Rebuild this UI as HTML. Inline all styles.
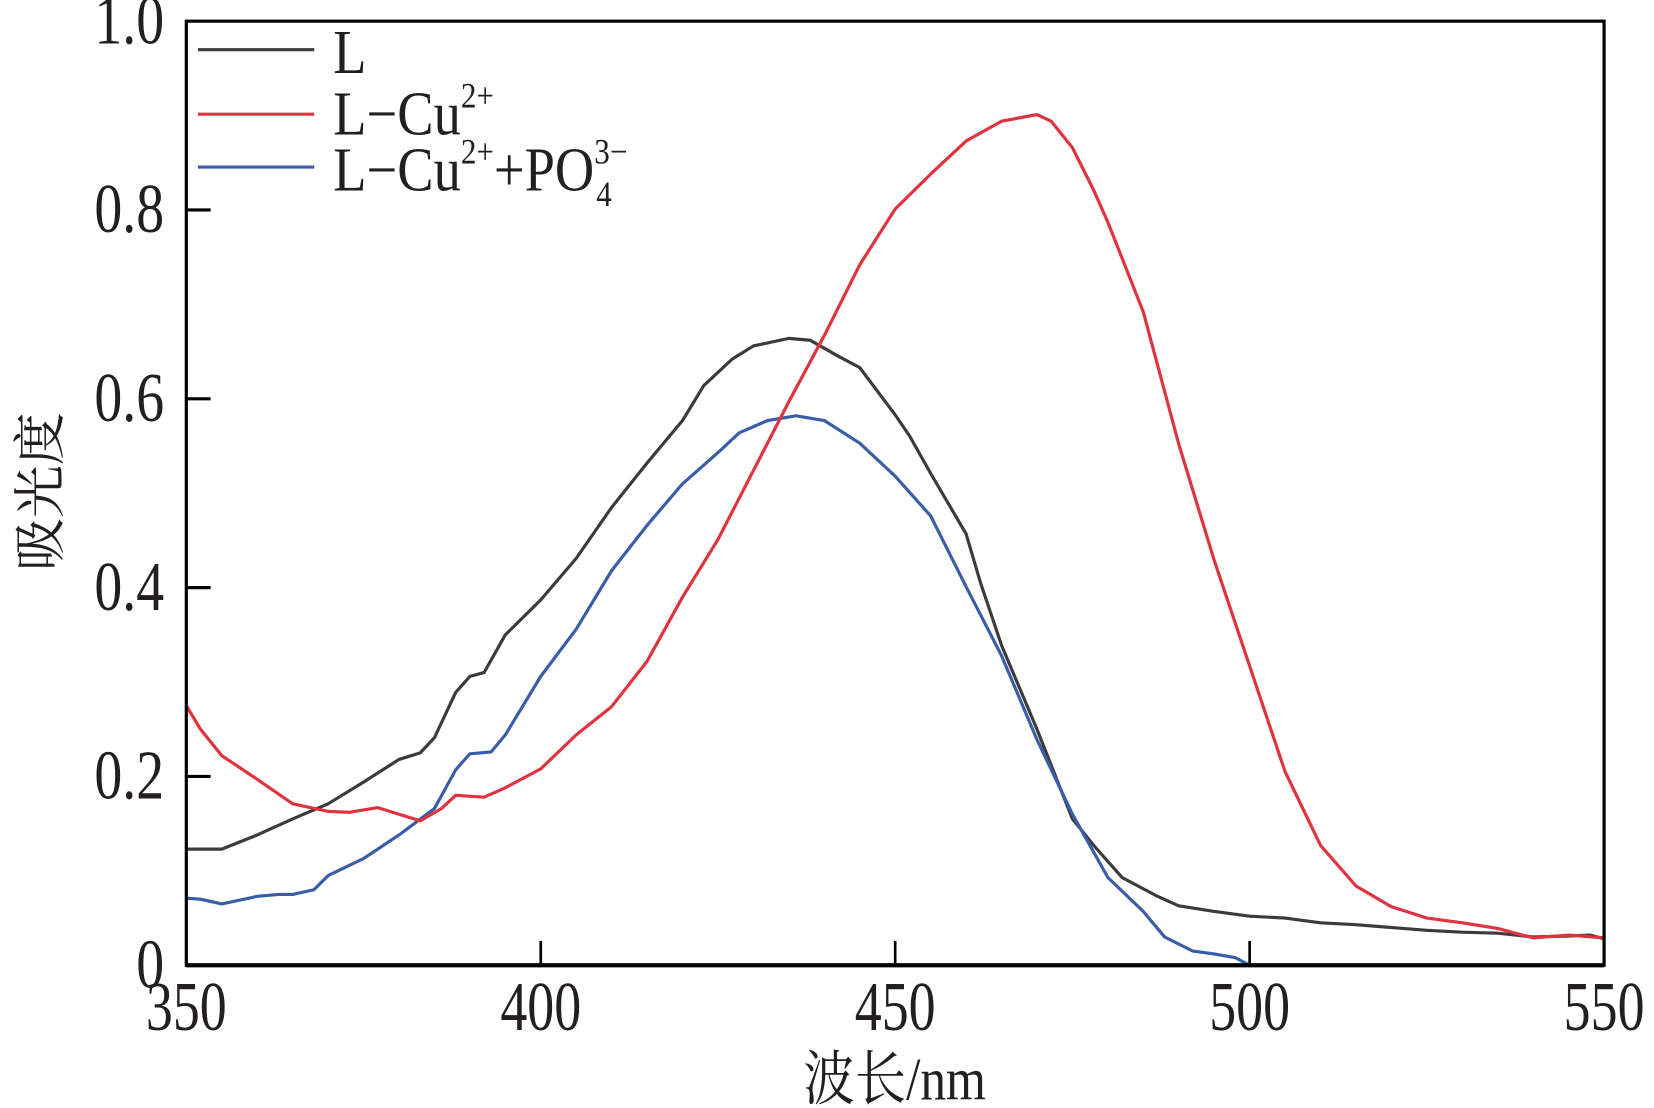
<!DOCTYPE html>
<html><head><meta charset="utf-8"><style>
html,body{margin:0;padding:0;background:#fff;}
svg{display:block;}
text{font-family:"Liberation Serif","Noto Serif CJK SC",serif;fill:#231f20;}
</style></head><body>
<svg id="chart" width="1654" height="1108" viewBox="0 0 1564 1048" xmlns="http://www.w3.org/2000/svg">
<g id="ticks"></g>
<g id="series"></g>
<rect x="176" y="20" width="1341" height="893" fill="none" stroke="#000" stroke-width="3"/>
<line x1="176" y1="913" x2="1517" y2="913" stroke="#000" stroke-width="4"/>
<text transform="translate(55,465) rotate(-90)" text-anchor="middle" font-size="50">吸光度</text>
<text transform="translate(846,1040) scale(0.9,1.05)" text-anchor="middle" font-size="54">波长/nm</text>
<g>
 <g><line x1="187" y1="47" x2="297" y2="47" stroke="#3d3a3b" stroke-width="3"/><text transform="translate(315,69) scale(0.92,1.05)" font-size="56">L</text></g>
 <g><line x1="187" y1="108" x2="297" y2="108" stroke="#e0323f" stroke-width="3"/><text transform="translate(315,127) scale(0.92,1.05)" font-size="56">L−Cu<tspan font-size="32" dy="-24">2+</tspan></text></g>
 <g><line x1="187" y1="158" x2="297" y2="158" stroke="#3a5da8" stroke-width="3"/><text transform="translate(315,180) scale(0.92,1.05)" font-size="56">L−Cu<tspan font-size="32" dy="-24">2+</tspan><tspan dy="24">+PO</tspan><tspan font-size="32" dy="-24">3−</tspan><tspan font-size="32" dx="-32" dy="38">4</tspan></text></g>
</g>
</svg>
<script>
const xTicks=[350,400,450,500,550];
const yTicks=[0,0.2,0.4,0.6,0.8,1.0];
const yTickLabels=["0","0.2","0.4","0.6","0.8","1.0"];
const wlL=[350,355,360,365,370,375,380,383,385,388,390,392,395,400,405,410,415,420,423,427,430,435,438,442,445,450,452,455,460,462,465,470,475,478,482,487,490,495,500,505,510,515,520,525,530,535,540,545,548,550];
const absL=[0.123,0.123,0.138,0.155,0.171,0.194,0.218,0.225,0.241,0.289,0.306,0.310,0.350,0.387,0.431,0.485,0.532,0.577,0.614,0.642,0.656,0.664,0.662,0.645,0.633,0.583,0.561,0.521,0.457,0.406,0.339,0.250,0.155,0.127,0.093,0.073,0.063,0.057,0.052,0.050,0.045,0.043,0.040,0.037,0.035,0.034,0.030,0.031,0.032,0.028];
const wlCu=[350,352,355,360,365,370,373,377,380,383,386,388,392,395,400,405,410,415,420,425,430,435,440,445,450,455,460,465,470,472,475,478,480,485,490,495,500,505,510,515,520,525,530,535,540,545,550];
const absCu=[0.275,0.250,0.222,0.197,0.171,0.163,0.162,0.167,0.160,0.153,0.166,0.180,0.178,0.188,0.208,0.244,0.274,0.322,0.390,0.451,0.524,0.597,0.667,0.742,0.801,0.838,0.873,0.894,0.901,0.894,0.866,0.821,0.787,0.692,0.552,0.429,0.317,0.205,0.127,0.084,0.062,0.050,0.045,0.039,0.029,0.032,0.029];
const wlPO=[350,352,355,360,363,365,368,370,375,380,385,388,390,393,395,400,405,410,415,420,425,428,432,436,440,445,450,455,460,465,470,475,480,485,488,492,495,498,500,502];
const absPO=[0.071,0.070,0.065,0.073,0.075,0.075,0.080,0.095,0.113,0.138,0.166,0.207,0.224,0.226,0.244,0.306,0.356,0.418,0.466,0.510,0.543,0.564,0.577,0.582,0.577,0.553,0.518,0.476,0.401,0.328,0.239,0.160,0.093,0.057,0.030,0.015,0.012,0.008,0.000,0.000];
const X=v=>176+(v-350)*(1341/200);
const Y=v=>913-v*893;
const NS="http://www.w3.org/2000/svg";
const tg=document.getElementById('ticks');
xTicks.forEach(t=>{
 const l=document.createElementNS(NS,'line');
 
 
 l.setAttribute('x1',X(t));l.setAttribute('x2',X(t));l.setAttribute('y1',913);l.setAttribute('y2',890);
 l.setAttribute('stroke','#000');l.setAttribute('stroke-width','2.5');tg.appendChild(l);
 const tx=document.createElementNS(NS,'text');
 
 
 tx.setAttribute('transform','translate('+X(t)+',974) scale(0.85,1.1)');
 tx.setAttribute('text-anchor','middle');tx.setAttribute('font-size','60');
 tx.textContent=t;tg.appendChild(tx);
});
yTicks.forEach((t,i)=>{
 if(t>0&&t<1){
 const l=document.createElementNS(NS,'line');
 
 
 l.setAttribute('x1',176);l.setAttribute('x2',199);l.setAttribute('y1',Y(t));l.setAttribute('y2',Y(t));
 l.setAttribute('stroke','#000');l.setAttribute('stroke-width','3');tg.appendChild(l);}
 const tx=document.createElementNS(NS,'text');
 
 
 tx.setAttribute('transform','translate(155,'+(Y(t)+21)+') scale(0.88,1.1)');
 tx.setAttribute('text-anchor','end');tx.setAttribute('font-size','60');
 tx.textContent=yTickLabels[i];tg.appendChild(tx);
});
const sg=document.getElementById('series');
function addLine(xs,ys,color,name){
 const p=document.createElementNS(NS,'polyline');
 
 
 p.setAttribute('points',xs.map((x,i)=>X(x)+','+Y(ys[i])).join(' '));
 p.setAttribute('fill','none');p.setAttribute('stroke',color);p.setAttribute('stroke-width','3');p.setAttribute('stroke-linejoin','round');
 sg.appendChild(p);
}
addLine(wlL,absL,'#3d3a3b','series-l');
addLine(wlPO,absPO,'#3a5da8','series-l-cu-po4');
addLine(wlCu,absCu,'#e0323f','series-l-cu');
</script>
</body></html>
